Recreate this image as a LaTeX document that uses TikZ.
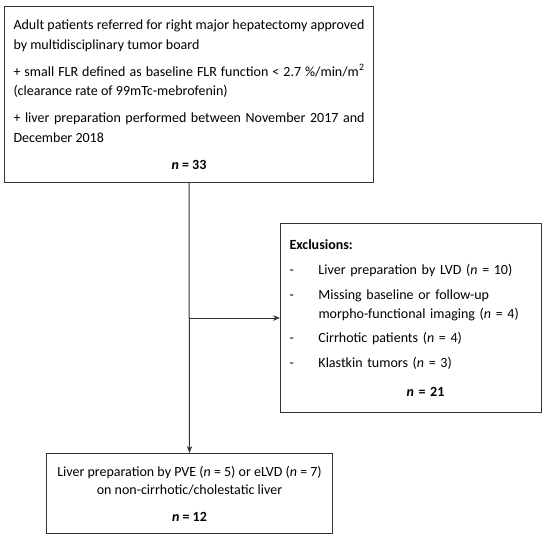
\documentclass[tikz,border=0pt]{standalone}
\usepackage{fontspec}
\setmainfont{Carlito}
\usepackage{tikz}
\usetikzlibrary{arrows.meta,positioning,calc}

\begin{document}
\begin{tikzpicture}[x=1pt,y=-1pt,>={Stealth[length=7pt,width=5.5pt]},font=\fontsize{14}{19}\selectfont]
  \tikzstyle{box}=[draw=black!80,line width=1pt,rectangle,inner xsep=9pt,inner ysep=0pt,anchor=north west]
  \useasboundingbox (0,0) rectangle (550,539);

  \node[box,minimum width=369pt,minimum height=176pt,text width=351pt,align=justify,
        font=\fontsize{14}{19.5}\selectfont] (SCREEN) at (4,6) {%
    Adult patients referred for right major hepatectomy approved\linebreak
    by multidisciplinary tumor board\par\vspace{7.5pt}
    + small FLR defined as baseline FLR function < 2.7 \%/min/m\textsuperscript{2}\linebreak
    (clearance rate of 99mTc-mebrofenin)\par\vspace{7.5pt}
    + liver preparation performed between November 2017 and\linebreak
    December 2018\par\vspace{7.5pt}
    {\centering\textbf{\textit{n} = 33}\par}};

  \node[box,minimum width=261pt,minimum height=189pt,text width=243pt,align=left] (EXCL) at (280,223) {%
    \textbf{Exclusions:}\\[6pt]
    \makebox[29pt][l]{-}Liver preparation by LVD (\textit{n} = 10)\\[6pt]
    \makebox[29pt][l]{-}Missing baseline or follow-up\\
    \hspace*{29pt}morpho-functional imaging (\textit{n} = 4)\\[5pt]
    \makebox[29pt][l]{-}Cirrhotic patients (\textit{n} = 4)\\[6pt]
    \makebox[29pt][l]{-}Klastkin tumors (\textit{n} = 3)\\[10pt]
    \hspace*{29pt}\makebox[214pt]{\textbf{\textit{n} = 21}}};

  \node[box,minimum width=286pt,minimum height=80pt,align=center,
        font=\fontsize{14}{18}\selectfont] (FINAL) at (46,453) {%
    Liver preparation by PVE (\textit{n} = 5) or eLVD (\textit{n} = 7)\\
    on non-cirrhotic/cholestatic liver\\[9pt]
    \textbf{\textit{n} = 12}};

  \coordinate (BRANCH) at (SCREEN.south |- EXCL.west);
  \draw[->,line width=1pt,draw=black!80] (SCREEN.south) -- (FINAL.north);
  \draw[->,line width=1pt,draw=black!80] (BRANCH) -- (EXCL.west);
\end{tikzpicture}
\end{document}
